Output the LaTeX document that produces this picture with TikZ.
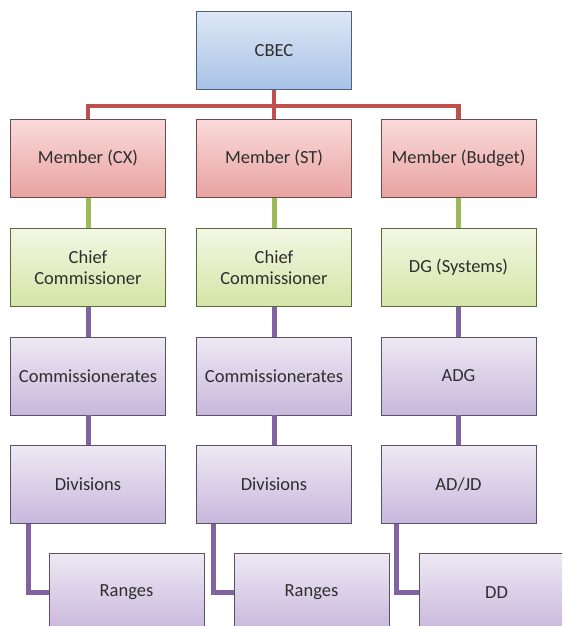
\documentclass[tikz,border=0pt]{standalone}
\usepackage{fontspec}
\setmainfont{Carlito}
\definecolor{bluetop}{HTML}{DDE7F5}
\definecolor{bluebot}{HTML}{A8C2E6}
\definecolor{blueline}{HTML}{4A6184}
\definecolor{redtop}{HTML}{FADADA}
\definecolor{redbot}{HTML}{E8A2A1}
\definecolor{redline}{HTML}{6E4A4A}
\definecolor{greentop}{HTML}{F2F7E4}
\definecolor{greenbot}{HTML}{D5E5A6}
\definecolor{greenline}{HTML}{5A6B3C}
\definecolor{purtop}{HTML}{EEE9F4}
\definecolor{purbot}{HTML}{C8B7DC}
\definecolor{purline}{HTML}{5A5068}
\definecolor{conred}{HTML}{C0504D}
\definecolor{congreen}{HTML}{9BBB59}
\definecolor{conpur}{HTML}{8064A2}
\definecolor{txt}{HTML}{2E2E2E}
\begin{document}
\begin{tikzpicture}[x=1pt,y=-1pt,
  box/.style={draw, line width=0.9pt, minimum width=155pt, minimum height=78pt,
    inner sep=1pt, align=center, text=txt, font=\fontsize{18.5}{21}\selectfont},
  bluebox/.style={box, draw=blueline, top color=bluetop, bottom color=bluebot},
  redbox/.style={box, draw=redline, top color=redtop, bottom color=redbot},
  greenbox/.style={box, draw=greenline, top color=greentop, bottom color=greenbot},
  purbox/.style={box, draw=purline, top color=purtop, bottom color=purbot},
  redcon/.style={draw=conred, line width=4.5pt},
  greencon/.style={draw=congreen, line width=5pt},
  purcon/.style={draw=conpur, line width=5pt}]
\useasboundingbox (0,0) rectangle (562,626);
\clip (0,0) rectangle (562,626);
\fill[white] (0,0) rectangle (562,626);
\coordinate (bus) at (0,106);
\node[bluebox] (cbec) at (274,50.5) {CBEC};
\node[redbox] (m1) at (88,158.5) {Member (CX)};
\node[redbox] (m2) at (274,158.5) {Member (ST)};
\node[redbox] (m3) at (458.5,158.5) {Member (Budget)};
\node[greenbox] (g1) at (88,267.5) {Chief\\Commissioner};
\node[greenbox] (g2) at (274,267.5) {Chief\\Commissioner};
\node[greenbox] (g3) at (458.5,267.5) {DG (Systems)};
\node[purbox] (c1) at (88,376) {Commissionerates};
\node[purbox] (c2) at (274,376) {Commissionerates};
\node[purbox] (c3) at (458.5,376) {ADG};
\node[purbox] (d1) at (88,484.5) {Divisions};
\node[purbox] (d2) at (274,484.5) {Divisions};
\node[purbox] (d3) at (458.5,484.5) {AD/JD};
\node[purbox] (r1) at (126.5,592.5) {Ranges};
\node[purbox] (r2) at (311.5,592.5) {Ranges};
\node[purbox] (r3) at (496.5,592.5) {DD};
\begin{scope}[line cap=butt]
\path[redcon] (m1.north) -- (m1.north |- bus) -- (m3.north |- bus) -- (m3.north);
\path[redcon] (cbec.south) -- (m2.north);
\path[greencon] (m1.south) -- (g1.north);
\path[greencon] (m2.south) -- (g2.north);
\path[greencon] (m3.south) -- (g3.north);
\path[purcon] (g1.south) -- (c1.north);
\path[purcon] (g2.south) -- (c2.north);
\path[purcon] (g3.south) -- (c3.north);
\path[purcon] (c1.south) -- (d1.north);
\path[purcon] (c2.south) -- (d2.north);
\path[purcon] (c3.south) -- (d3.north);
\coordinate (e1) at ([xshift=18pt]d1.south west);
\coordinate (e2) at ([xshift=17pt]d2.south west);
\coordinate (e3) at ([xshift=16pt]d3.south west);
\path[purcon, line join=miter] (e1) |- (r1.west);
\path[purcon, line join=miter] (e2) |- (r2.west);
\path[purcon, line join=miter] (e3) |- (r3.west);
\end{scope}
\end{tikzpicture}
\end{document}
